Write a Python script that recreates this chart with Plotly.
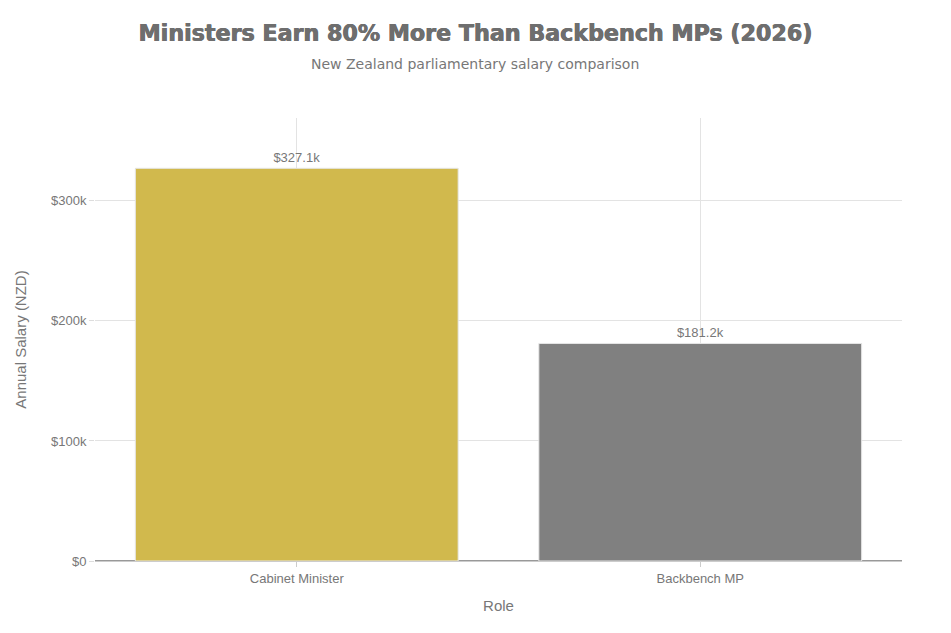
import plotly.graph_objects as go

roles = ["Cabinet Minister", "Backbench MP"]
salaries = [327100, 181200]
bar_colors = ["#D1B94D", "#808080"]
value_labels = ["$327.1k", "$181.2k"]
y_tickvals = [0, 100000, 200000, 300000]
y_ticktext = ["$0", "$100k", "$200k", "$300k"]

fig = go.Figure(go.Bar(
    x=roles, y=salaries,
    marker=dict(color=bar_colors, line=dict(color="#e6e6e6", width=1)),
    text=value_labels, textposition="outside", cliponaxis=False,
    textfont=dict(size=13, color="#777777", family="Liberation Sans, Arial, sans-serif"),
    hovertemplate="%{x}: %{text}<extra></extra>",
))

fig.update_layout(
    width=951, height=633,
    margin=dict(l=87, r=57, t=110, b=80),
    paper_bgcolor="white", plot_bgcolor="white",
    bargap=0.2,
    showlegend=False,
    font=dict(family="Liberation Sans, Arial, sans-serif", color="#777777", size=13),
    title=dict(
        text="<b>Ministers Earn 80% More Than Backbench MPs (2026)</b>",
        x=0.4916, xanchor="center", y=0.9605, yanchor="middle",
        font=dict(family="DejaVu Sans", size=22.2, color="#6e6e6e",
                  shadow="0.4px 0 0 #6e6e6e, -0.4px 0 0 #6e6e6e"),
    ),
    annotations=[dict(
        text="New Zealand parliamentary salary comparison",
        xref="paper", yref="paper", x=0.4709, y=1.1219,
        xanchor="center", yanchor="middle", showarrow=False,
        font=dict(family="DejaVu Sans", size=14, color="#777777"),
    )],
    xaxis=dict(
        title=dict(text="Role", font=dict(size=15, color="#777777"), standoff=15),
        showgrid=True, gridcolor="#e3e3e3", gridwidth=1,
        showline=True, linecolor="#cccccc", linewidth=1,
        ticks="outside", tickcolor="#cccccc", ticklen=5,
        tickfont=dict(size=13, color="#777777"),
    ),
    yaxis=dict(
        title=dict(text="Annual Salary (NZD)", font=dict(size=15, color="#777777"), standoff=20),
        range=[0, 369000],
        tickvals=y_tickvals, ticktext=y_ticktext,
        showgrid=True, gridcolor="#e3e3e3", gridwidth=1,
        zeroline=True, zerolinecolor="#999999", zerolinewidth=1.5,
        ticks="outside", tickcolor="#dddddd", ticklen=5,
        tickfont=dict(size=13, color="#777777"),
    ),
)

fig.write_html("out.html")
